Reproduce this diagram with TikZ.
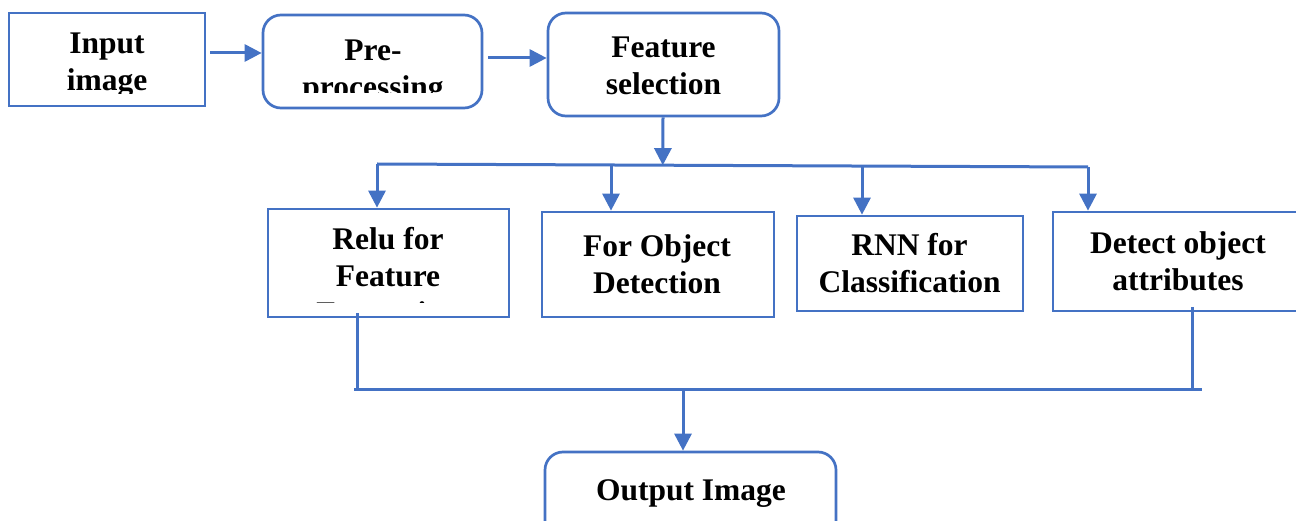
\documentclass[tikz,border=0pt]{standalone}
\usepackage{fontspec}
\setmainfont{Liberation Serif}
\usetikzlibrary{arrows.meta,calc}
\definecolor{wblue}{RGB}{68,114,196}
\newcommand\mytxt[1]{\vtop{\baselineskip=37pt\lineskiplimit=-100pt\lineskip=0pt\halign{\hfil##\hfil\cr #1\crcr}}}
\tikzset{
  sqbox/.style={draw=wblue, line width=2.7pt, fill=none, inner sep=0pt},
  rbox/.style={sqbox, rounded corners=18pt},
  txt/.style={inner sep=0pt, anchor=base, font=\bfseries\fontsize{31.5}{37}\selectfont},
  conn/.style={draw=wblue, line width=3pt},
  arr/.style={conn, -{Triangle[width=17pt,length=17pt]}}
}
\begin{document}
\begin{tikzpicture}[x=1pt,y=-1pt]
\useasboundingbox (0,0) rectangle (1296,521);
% boxes
\node[sqbox, minimum width=196pt, minimum height=93pt] (in) at (107,59.5) {};
\node[rbox, minimum width=219pt, minimum height=93pt] (pre) at (372.5,61.5) {};
\node[rbox, minimum width=231pt, minimum height=103pt] (fs) at (663.5,64.5) {};
\node[sqbox, minimum width=241pt, minimum height=108pt] (relu) at (388.5,263) {};
\node[sqbox, minimum width=232pt, minimum height=105pt] (obj) at (658,264.5) {};
\node[sqbox, minimum width=226pt, minimum height=95pt] (rnn) at (910,263.5) {};
\node[sqbox, minimum width=267pt, minimum height=99pt] (det) at (1186.5,261.5) {};
\node[rbox, minimum width=291pt, minimum height=93pt] (out) at (690.5,498.5) {};
% texts
\begin{scope}
\clip (10,14) rectangle (204,94);
\node[txt] (tin) at (107,53.5) {\mytxt{Input\cr image}};
\end{scope}
\begin{scope}
\clip (264,16) rectangle (481,93);
\node[txt] (tpre) at (373,61) {\mytxt{Pre-\cr processing}};
\end{scope}
\node[txt] (tfs) at (663.5,58) {\mytxt{Feature\cr selection}};
\begin{scope}
\clip (269,210) rectangle (508,302.8);
\node[txt] (trelu) at (388,250) {\mytxt{Relu for\cr Feature\cr Extraction}};
\end{scope}
\node[txt] (tobj) at (657,256.5) {\mytxt{For Object\cr Detection}};
\node[txt] (trnn) at (909.5,256) {\mytxt{RNN for\cr Classification}};
\node[txt] (tdet) at (1178,254) {\mytxt{Detect object\cr attributes}};
\node[txt] (tout) at (691,500) {Output Image};
% top row arrows
\coordinate (a1) at (210,53);
\coordinate (a2) at (488,58);
\draw[arr] (a1) -- (a1 -| pre.west);
\draw[arr] (a2) -- (a2 -| fs.west);
% distribution line
\coordinate (hL) at (377,164);
\coordinate (hR) at (1088,167);
\draw[conn] (hL) -- (hR);
\coordinate (fsx) at (663,0);
\draw[arr] (fsx |- fs.south) -- ($(hL)!(fsx |- fs.south)!(hR)$);
\coordinate (b2) at (611,165);
\coordinate (b3) at (862,166);
\draw[arr] (hL) -- (hL |- relu.north);
\draw[arr] (b2) -- (b2 |- obj.north);
\draw[arr] (b3) -- (b3 |- rnn.north);
\draw[arr] (hR) -- (hR |- det.north);
% collection line
\coordinate (jL) at (354,389);
\coordinate (jR) at (1202,389);
\coordinate (u1) at (357,313);
\coordinate (u2) at (1192,307);
\draw[conn] (u1) -- (u1 |- jL);
\draw[conn] (u2) -- (u2 |- jR);
\draw[conn] (jL) -- (jR);
\coordinate (dd) at (683,389);
\draw[arr] (dd) -- (dd |- out.north);
\end{tikzpicture}
\end{document}
